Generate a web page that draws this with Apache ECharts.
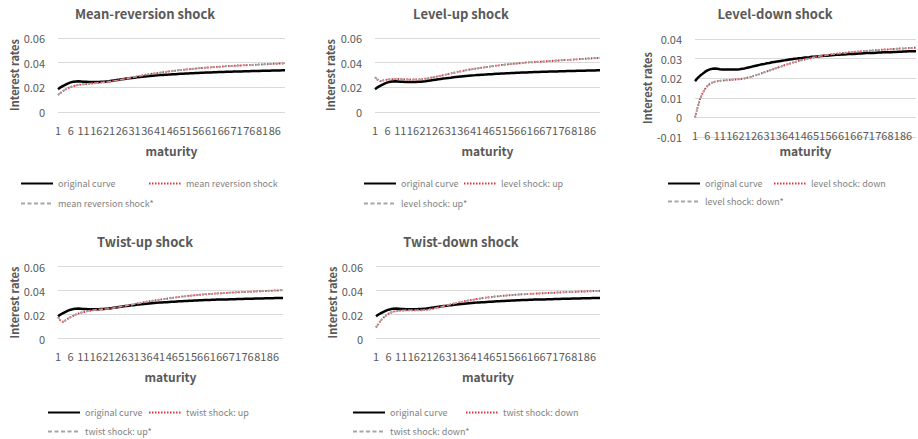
<!DOCTYPE html>
<html><head><meta charset="utf-8">
<script src="https://cdn.jsdelivr.net/npm/echarts@6/dist/echarts.min.js"></script>
<style>html,body{margin:0;padding:0;background:#fff}#c{width:918px;height:439px}</style>
</head><body><div id="c"></div>
<script>
const maturity = [1,2,3,4,5,6,7,8,9,10,11,12,13,14,15,16,17,18,19,20,21,22,23,24,25,26,27,28,29,30,
31,32,33,34,35,36,37,38,39,40,41,42,43,44,45,46,47,48,49,50,51,52,53,54,55,56,57,58,59,60,
61,62,63,64,65,66,67,68,69,70,71,72,73,74,75,76,77,78,79,80,81,82,83,84,85,86,87,88,89,90];

const originalCurve = [0.0185,0.0200,0.0212,0.0222,0.0232,0.0240,0.0245,0.0248,0.0249,0.0248,
0.0246,0.0245,0.0244,0.0244,0.0244,0.0244,0.0244,0.0245,0.0246,0.0248,
0.0250,0.0253,0.0256,0.0259,0.0262,0.0265,0.0268,0.0271,0.0273,0.0276,
0.0278,0.0281,0.0283,0.0285,0.0287,0.0289,0.0291,0.0293,0.0295,0.0297,
0.0299,0.0300,0.0302,0.0303,0.0305,0.0306,0.0307,0.0309,0.0310,0.0311,
0.0312,0.0313,0.0314,0.0315,0.0316,0.0317,0.0318,0.0319,0.0320,0.0321,
0.0321,0.0322,0.0323,0.0324,0.0324,0.0325,0.0326,0.0326,0.0327,0.0328,
0.0328,0.0329,0.0329,0.0330,0.0331,0.0331,0.0332,0.0332,0.0333,0.0333,
0.0334,0.0334,0.0335,0.0335,0.0336,0.0336,0.0337,0.0337,0.0338,0.0338];

const meanReversionShock = [0.0139,0.0155,0.0170,0.0183,0.0194,0.0203,0.0210,0.0215,0.0219,0.0222,
0.0225,0.0227,0.0229,0.0231,0.0233,0.0235,0.0237,0.0239,0.0241,0.0243,
0.0246,0.0249,0.0253,0.0256,0.0260,0.0264,0.0268,0.0272,0.0276,0.0280,
0.0284,0.0288,0.0292,0.0296,0.0300,0.0303,0.0307,0.0310,0.0313,0.0316,
0.0319,0.0322,0.0325,0.0328,0.0330,0.0333,0.0335,0.0338,0.0340,0.0342,
0.0344,0.0346,0.0348,0.0350,0.0352,0.0354,0.0356,0.0358,0.0359,0.0361,
0.0362,0.0364,0.0365,0.0367,0.0368,0.0369,0.0371,0.0372,0.0373,0.0374,
0.0376,0.0377,0.0378,0.0379,0.0380,0.0381,0.0382,0.0383,0.0384,0.0385,
0.0386,0.0387,0.0388,0.0389,0.0390,0.0391,0.0392,0.0393,0.0394,0.0395];

const meanReversionShockStar = [0.0139,0.0155,0.0170,0.0183,0.0194,0.0203,0.0210,0.0215,0.0219,0.0222,
0.0225,0.0227,0.0229,0.0231,0.0233,0.0235,0.0237,0.0239,0.0241,0.0243,
0.0246,0.0249,0.0253,0.0256,0.0260,0.0264,0.0268,0.0272,0.0276,0.0280,
0.0284,0.0288,0.0292,0.0296,0.0300,0.0303,0.0307,0.0310,0.0313,0.0316,
0.0319,0.0322,0.0325,0.0328,0.0330,0.0333,0.0335,0.0338,0.0340,0.0342,
0.0344,0.0346,0.0348,0.0350,0.0352,0.0354,0.0356,0.0358,0.0359,0.0361,
0.0362,0.0364,0.0365,0.0367,0.0368,0.0369,0.0371,0.0372,0.0373,0.0374,
0.0376,0.0377,0.0378,0.0379,0.0380,0.0381,0.0382,0.0383,0.0384,0.0385,
0.0386,0.0387,0.0388,0.0389,0.0390,0.0391,0.0392,0.0393,0.0394,0.0395];

const levelShockUp = [0.0281,0.0262,0.0250,0.0255,0.0260,0.0263,0.0265,0.0266,0.0267,0.0267,
0.0267,0.0266,0.0265,0.0264,0.0263,0.0263,0.0263,0.0264,0.0265,0.0267,
0.0270,0.0273,0.0277,0.0281,0.0285,0.0290,0.0294,0.0299,0.0303,0.0308,
0.0313,0.0317,0.0322,0.0326,0.0330,0.0334,0.0338,0.0342,0.0345,0.0349,
0.0352,0.0355,0.0358,0.0361,0.0364,0.0367,0.0370,0.0373,0.0376,0.0378,
0.0381,0.0383,0.0385,0.0387,0.0389,0.0391,0.0393,0.0395,0.0397,0.0400,
0.0401,0.0403,0.0404,0.0405,0.0407,0.0408,0.0409,0.0410,0.0412,0.0413,
0.0414,0.0416,0.0417,0.0418,0.0420,0.0421,0.0422,0.0423,0.0425,0.0426,
0.0427,0.0429,0.0430,0.0431,0.0433,0.0434,0.0435,0.0436,0.0438,0.0439];

const levelShockUpStar = [0.0281,0.0262,0.0250,0.0255,0.0260,0.0263,0.0265,0.0266,0.0267,0.0267,
0.0267,0.0266,0.0265,0.0264,0.0263,0.0263,0.0263,0.0264,0.0265,0.0267,
0.0270,0.0273,0.0277,0.0281,0.0285,0.0290,0.0294,0.0299,0.0303,0.0308,
0.0313,0.0317,0.0322,0.0326,0.0330,0.0334,0.0338,0.0342,0.0345,0.0349,
0.0352,0.0355,0.0358,0.0361,0.0364,0.0367,0.0370,0.0373,0.0376,0.0378,
0.0381,0.0383,0.0385,0.0387,0.0389,0.0391,0.0393,0.0395,0.0397,0.0400,
0.0401,0.0403,0.0404,0.0405,0.0407,0.0408,0.0409,0.0410,0.0412,0.0413,
0.0414,0.0416,0.0417,0.0418,0.0420,0.0421,0.0422,0.0423,0.0425,0.0426,
0.0427,0.0429,0.0430,0.0431,0.0433,0.0434,0.0435,0.0436,0.0438,0.0439];

const levelShockDown = [0.0000,0.0048,0.0093,0.0122,0.0144,0.0160,0.0172,0.0178,0.0182,0.0185,
0.0187,0.0188,0.0189,0.0190,0.0191,0.0192,0.0193,0.0194,0.0195,0.0197,
0.0199,0.0202,0.0205,0.0209,0.0213,0.0217,0.0221,0.0226,0.0230,0.0235,
0.0239,0.0244,0.0248,0.0253,0.0257,0.0261,0.0266,0.0270,0.0274,0.0278,
0.0282,0.0285,0.0289,0.0292,0.0295,0.0298,0.0301,0.0304,0.0307,0.0310,
0.0312,0.0314,0.0316,0.0318,0.0320,0.0322,0.0323,0.0325,0.0326,0.0328,
0.0329,0.0330,0.0332,0.0333,0.0334,0.0335,0.0336,0.0337,0.0338,0.0339,
0.0340,0.0341,0.0342,0.0343,0.0344,0.0345,0.0346,0.0347,0.0347,0.0348,
0.0349,0.0350,0.0351,0.0351,0.0352,0.0353,0.0354,0.0354,0.0355,0.0356];

const levelShockDownStar = [0.0000,0.0048,0.0093,0.0122,0.0144,0.0160,0.0172,0.0178,0.0182,0.0185,
0.0187,0.0188,0.0189,0.0190,0.0191,0.0192,0.0193,0.0194,0.0195,0.0197,
0.0199,0.0202,0.0205,0.0209,0.0213,0.0217,0.0221,0.0226,0.0230,0.0235,
0.0239,0.0244,0.0248,0.0253,0.0257,0.0261,0.0266,0.0270,0.0274,0.0278,
0.0282,0.0285,0.0289,0.0292,0.0295,0.0298,0.0301,0.0304,0.0307,0.0310,
0.0312,0.0314,0.0316,0.0318,0.0320,0.0322,0.0323,0.0325,0.0326,0.0328,
0.0329,0.0330,0.0332,0.0333,0.0334,0.0335,0.0336,0.0337,0.0338,0.0339,
0.0340,0.0341,0.0342,0.0343,0.0344,0.0345,0.0346,0.0347,0.0347,0.0348,
0.0349,0.0350,0.0351,0.0351,0.0352,0.0353,0.0354,0.0354,0.0355,0.0356];

const twistShockUp = [0.0178,0.0150,0.0139,0.0152,0.0165,0.0178,0.0189,0.0199,0.0207,0.0214,
0.0220,0.0225,0.0229,0.0233,0.0236,0.0239,0.0241,0.0243,0.0245,0.0246,
0.0248,0.0251,0.0254,0.0258,0.0262,0.0266,0.0270,0.0274,0.0278,0.0282,
0.0286,0.0290,0.0294,0.0298,0.0302,0.0306,0.0310,0.0313,0.0317,0.0320,
0.0323,0.0326,0.0329,0.0332,0.0335,0.0338,0.0341,0.0344,0.0346,0.0349,
0.0351,0.0354,0.0356,0.0358,0.0360,0.0362,0.0364,0.0366,0.0368,0.0369,
0.0371,0.0372,0.0374,0.0375,0.0377,0.0378,0.0379,0.0380,0.0382,0.0383,
0.0384,0.0385,0.0386,0.0387,0.0388,0.0389,0.0390,0.0391,0.0392,0.0393,
0.0394,0.0395,0.0396,0.0397,0.0398,0.0399,0.0400,0.0401,0.0402,0.0403];

const twistShockUpStar = [0.0178,0.0150,0.0139,0.0152,0.0165,0.0178,0.0189,0.0199,0.0207,0.0214,
0.0220,0.0225,0.0229,0.0233,0.0236,0.0239,0.0241,0.0243,0.0245,0.0246,
0.0248,0.0251,0.0254,0.0258,0.0262,0.0266,0.0270,0.0274,0.0278,0.0282,
0.0286,0.0290,0.0294,0.0298,0.0302,0.0306,0.0310,0.0313,0.0317,0.0320,
0.0323,0.0326,0.0329,0.0332,0.0335,0.0338,0.0341,0.0344,0.0346,0.0349,
0.0351,0.0354,0.0356,0.0358,0.0360,0.0362,0.0364,0.0366,0.0368,0.0369,
0.0371,0.0372,0.0374,0.0375,0.0377,0.0378,0.0379,0.0380,0.0382,0.0383,
0.0384,0.0385,0.0386,0.0387,0.0388,0.0389,0.0390,0.0391,0.0392,0.0393,
0.0394,0.0395,0.0396,0.0397,0.0398,0.0399,0.0400,0.0401,0.0402,0.0403];

const twistShockDown = [0.0092,0.0125,0.0152,0.0174,0.0192,0.0206,0.0217,0.0224,0.0228,0.0231,
0.0233,0.0234,0.0235,0.0235,0.0235,0.0235,0.0235,0.0235,0.0236,0.0237,
0.0239,0.0242,0.0246,0.0250,0.0255,0.0260,0.0265,0.0271,0.0276,0.0281,
0.0286,0.0291,0.0296,0.0301,0.0305,0.0310,0.0314,0.0318,0.0322,0.0325,
0.0329,0.0332,0.0335,0.0338,0.0341,0.0344,0.0346,0.0349,0.0351,0.0353,
0.0355,0.0357,0.0359,0.0361,0.0362,0.0364,0.0365,0.0367,0.0368,0.0369,
0.0371,0.0372,0.0373,0.0374,0.0375,0.0376,0.0377,0.0378,0.0379,0.0380,
0.0381,0.0382,0.0383,0.0384,0.0385,0.0386,0.0387,0.0388,0.0388,0.0389,
0.0390,0.0391,0.0392,0.0392,0.0393,0.0394,0.0395,0.0396,0.0396,0.0397];

const twistShockDownStar = [0.0092,0.0125,0.0152,0.0174,0.0192,0.0206,0.0217,0.0224,0.0228,0.0231,
0.0233,0.0234,0.0235,0.0235,0.0235,0.0235,0.0235,0.0235,0.0236,0.0237,
0.0239,0.0242,0.0246,0.0250,0.0255,0.0260,0.0265,0.0271,0.0276,0.0281,
0.0286,0.0291,0.0296,0.0301,0.0305,0.0310,0.0314,0.0318,0.0322,0.0325,
0.0329,0.0332,0.0335,0.0338,0.0341,0.0344,0.0346,0.0349,0.0351,0.0353,
0.0355,0.0357,0.0359,0.0361,0.0362,0.0364,0.0365,0.0367,0.0368,0.0369,
0.0371,0.0372,0.0373,0.0374,0.0375,0.0376,0.0377,0.0378,0.0379,0.0380,
0.0381,0.0382,0.0383,0.0384,0.0385,0.0386,0.0387,0.0388,0.0388,0.0389,
0.0390,0.0391,0.0392,0.0392,0.0393,0.0394,0.0395,0.0396,0.0396,0.0397];

const yTicksMain = [0, 0.02, 0.04, 0.06];
const yTicksLevelDown = [-0.01, 0, 0.01, 0.02, 0.03, 0.04];

const panelTitles = ['Mean-reversion shock', 'Level-up shock', 'Level-down shock', 'Twist-up shock', 'Twist-down shock'];
const shockNames = ['mean reversion shock', 'level shock: up', 'level shock: down', 'twist shock: up', 'twist shock: down'];
const starNames = ['mean reversion shock*', 'level shock: up*', 'level shock: down*', 'twist shock: up*', 'twist shock: down*'];
const shockData = [meanReversionShock, levelShockUp, levelShockDown, twistShockUp, twistShockDown];
const starData = [meanReversionShockStar, levelShockUpStar, levelShockDownStar, twistShockUpStar, twistShockDownStar];
const originalName = 'original curve';
const yAxisName = 'Interest rates';
const xAxisName = 'maturity';

const FONT = '"Noto Sans CJK KR", "Noto Sans", sans-serif';
const TXT = '#595959';

const layout = [
  {tx:145, ty:13, grid:{left:58, top:38, width:227, height:74}, ticks:yTicksMain, nameGap:38, lm:12, mg:32, leg:[[20,179],[148,179],[20,199]]},
  {tx:461, ty:13, grid:{left:375, top:38, width:225, height:74}, ticks:yTicksMain, nameGap:40, lm:12, mg:32, leg:[[363,179],[463,179],[363,199]]},
  {tx:775, ty:13, grid:{left:695, top:39, width:221, height:98}, ticks:yTicksLevelDown, nameGap:36, lm:-8, mg:7, leg:[[667,179],[773,179],[667,197]]},
  {tx:145, ty:241, grid:{left:58, top:266.5, width:225, height:72}, ticks:yTicksMain, nameGap:38, lm:12, mg:32, leg:[[47,408],[148,408],[47,427]]},
  {tx:461, ty:241, grid:{left:376, top:266.5, width:224, height:72}, ticks:yTicksMain, nameGap:39, lm:12, mg:32, leg:[[352,408],[465,408],[352,427]]}
];

const grids = [], xAxes = [], yAxes = [], series = [], legends = [], graphics = [];
layout.forEach((p, i) => {
  grids.push(Object.assign({containLabel:false}, p.grid));
  xAxes.push({
    type:'category', gridIndex:i, data:maturity, boundaryGap:false,
    axisLine:{show:false}, axisTick:{show:false},
    axisLabel:{interval:4, fontSize:11, lineHeight:11, color:TXT, margin:p.lm, fontFamily:FONT},
    name:xAxisName, nameLocation:'middle', nameGap:p.mg,
    nameTextStyle:{fontSize:12, lineHeight:12, fontWeight:'bold', color:TXT, fontFamily:FONT}
  });
  const t = p.ticks;
  yAxes.push({
    type:'value', gridIndex:i, min:t[0], max:t[t.length-1], interval:t[1]-t[0],
    axisLine:{show:false}, axisTick:{show:false},
    splitLine:{lineStyle:{color:'#d9d9d9', width:1}},
    axisLabel:{fontSize:11, color:TXT, margin:13, fontFamily:FONT,
      formatter: v => Math.abs(v) < 1e-9 ? '0' : v.toFixed(2)},
    name:yAxisName, nameLocation:'middle', nameGap:p.nameGap, nameRotate:90,
    nameTextStyle:{fontSize:11, fontWeight:'bold', color:TXT, fontFamily:FONT}
  });
  series.push({type:'line', name:originalName, xAxisIndex:i, yAxisIndex:i, data:originalCurve,
    symbol:'none', lineStyle:{color:'#000', width:2.5}, itemStyle:{color:'#000'}, animation:false, z:2});
  series.push({type:'line', name:shockNames[i], xAxisIndex:i, yAxisIndex:i, data:shockData[i],
    symbol:'none', lineStyle:{color:'#e0353d', width:2, type:[1.5,1.5]}, itemStyle:{color:'#e0353d'}, animation:false, z:3});
  series.push({type:'line', name:starNames[i], xAxisIndex:i, yAxisIndex:i, data:starData[i],
    symbol:'none', lineStyle:{color:'#a6a6a6', width:1.5, type:[4,2.5]}, itemStyle:{color:'#a6a6a6'}, animation:false, z:4});
  const names = [originalName, shockNames[i], starNames[i]];
  p.leg.forEach((pos, k) => {
    legends.push({left:pos[0], top:pos[1], padding:0, itemWidth:32, itemHeight:10, itemGap:0,
      selectedMode:false, data:[names[k]],
      itemStyle:{opacity:0, borderWidth:0},
      textStyle:{fontSize:9, color:'#7f7f7f', fontFamily:FONT}});
  });
  graphics.push({type:'text', x:p.tx, y:p.ty, style:{text:panelTitles[i], fontSize:13, fontWeight:'bold',
    fill:TXT, align:'center', verticalAlign:'middle', fontFamily:FONT}});
});

const chart = echarts.init(document.getElementById('c'), null, {renderer:'svg'});
chart.setOption({
  animation:false,
  backgroundColor:'#ffffff',
  grid:grids, xAxis:xAxes, yAxis:yAxes, series:series, legend:legends, graphic:graphics
});
</script>
</body></html>
